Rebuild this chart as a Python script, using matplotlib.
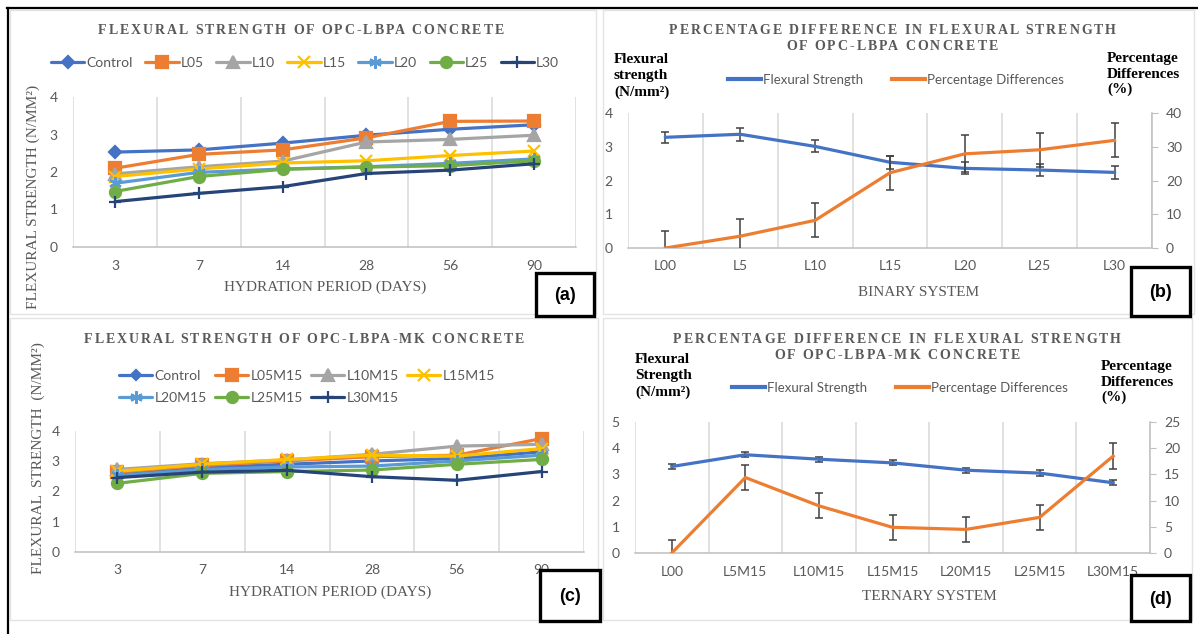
import matplotlib.pyplot as plt
import numpy as np
from matplotlib.lines import Line2D
from matplotlib.patches import Rectangle

W, H = 1198, 634
GRID = "#d9d9d9"
AXIS = "#bfbfbf"
TXT = "#595959"
SANS = "Lato"
SERIF = "Liberation Serif"

# ---- data ----
days = ["3", "7", "14", "28", "56", "90"]

binary_names = ["Control", "L05", "L10", "L15", "L20", "L25", "L30"]
b_control = [2.53, 2.59, 2.77, 2.98, 3.14, 3.26]
b_l05 = [2.10, 2.47, 2.59, 2.91, 3.35, 3.36]
b_l10 = [1.95, 2.14, 2.29, 2.80, 2.87, 2.98]
b_l15 = [1.88, 2.08, 2.24, 2.30, 2.44, 2.56]
b_l20 = [1.70, 1.99, 2.08, 2.14, 2.23, 2.35]
b_l25 = [1.48, 1.88, 2.07, 2.13, 2.17, 2.30]
b_l30 = [1.21, 1.43, 1.61, 1.96, 2.05, 2.22]

ternary_names = ["Control", "L05M15", "L10M15", "L15M15", "L20M15", "L25M15", "L30M15"]
t_control = [2.58, 2.79, 2.90, 3.01, 3.09, 3.31]
t_l05 = [2.64, 2.86, 3.01, 3.15, 3.20, 3.75]
t_l10 = [2.73, 2.92, 3.04, 3.23, 3.50, 3.56]
t_l15 = [2.67, 2.90, 3.06, 3.20, 3.17, 3.42]
t_l20 = [2.53, 2.73, 2.81, 2.84, 3.01, 3.20]
t_l25 = [2.27, 2.60, 2.66, 2.71, 2.90, 3.06]
t_l30 = [2.46, 2.64, 2.70, 2.49, 2.37, 2.66]

binary_mixes = ["L00", "L5", "L10", "L15", "L20", "L25", "L30"]
binary_fs = [3.28, 3.37, 3.01, 2.54, 2.36, 2.31, 2.24]
binary_fs_err = [0.17, 0.19, 0.18, 0.20, 0.18, 0.17, 0.19]
binary_pct = [0.0, 3.5, 8.2, 22.3, 27.9, 29.1, 31.9]
binary_pct_err = [5, 5, 5, 5, 5.5, 5, 5]

ternary_mixes = ["L00", "L5M15", "L10M15", "L15M15", "L20M15", "L25M15", "L30M15"]
ternary_fs = [3.30, 3.75, 3.58, 3.44, 3.16, 3.05, 2.68]
ternary_fs_err = [0.1, 0.1, 0.1, 0.1, 0.1, 0.1, 0.1]
ternary_pct = [0.0, 14.4, 9.0, 4.9, 4.5, 6.8, 18.5]
ternary_pct_err = [2.4, 2.4, 2.4, 2.4, 2.4, 2.4, 2.4]

# colour / marker per series (Excel office palette)
series_style = [
    ("#4472C4", "D", 6),
    ("#ED7D31", "s", 8),
    ("#A5A5A5", "^", 8),
    ("#FFC000", "x", 8),
    ("#5B9BD5", (6, 2, 0), 9),
    ("#70AD47", "o", 8),
    ("#264478", "+", 9),
]

fig = plt.figure(figsize=(W / 100, H / 100), dpi=100)
fig.patch.set_facecolor("white")
renderer = fig.canvas.get_renderer()


def rect(x0, y0, x1, y1):
    return [x0 / W, 1 - y1 / H, (x1 - x0) / W, (y1 - y0) / H]


def fxy(x, y):
    return x / W, 1 - y / H


def text_width(s, **kw):
    t = fig.text(0, 0, s, **kw)
    w = t.get_window_extent(renderer).width
    t.remove()
    return w


def spaced_text(s, x0, x1, y, **kw):
    # letter-spaced heading, stretched to fill x0..x1 (pixels), y is the baseline
    full = text_width(s, **kw)
    gap = (x1 - x0 - full) / (len(s) - 1)
    for i, ch in enumerate(s):
        if ch == " ":
            continue
        left = text_width(s[:i + 1], **kw) - text_width(ch, **kw)
        fig.text(*fxy(x0 + left + i * gap, y), ch, ha="left", va="baseline", **kw)


def stacked_text(lines, x, y, step, **kw):
    # one line per call so the baseline gap is exact (pixels)
    for i, s in enumerate(lines):
        fig.text(*fxy(x, y + i * step), s, ha="left", va="baseline", **kw)


def frame_line(xs, ys, color, lw):
    fig.add_artist(Line2D([x / W for x in xs], [1 - y / H for y in ys],
                          transform=fig.transFigure, color=color, lw=lw))


def base_axes(r, labels, ymax, ystep):
    ax = fig.add_axes(r)
    n = len(labels)
    ax.set_xlim(-0.5, n - 0.5)
    ax.set_ylim(0, ymax)
    ax.set_xticks(range(n))
    ax.set_xticklabels(labels)
    ax.set_yticks(np.arange(0, ymax + 0.01, ystep))
    for b in np.arange(-0.5, n):
        ax.axvline(b, color=GRID, lw=1.1, zorder=0)
    for s in ["top", "right", "left"]:
        ax.spines[s].set_visible(False)
    ax.spines["bottom"].set_color(AXIS)
    ax.spines["bottom"].set_linewidth(1.1)
    ax.tick_params(length=0, labelcolor=TXT, labelsize=10)
    ax.tick_params(axis="x", pad=9)
    ax.tick_params(axis="y", pad=11)
    for lab in ax.get_xticklabels() + ax.get_yticklabels():
        lab.set_family(SANS)
    ax.patch.set_alpha(0)
    return ax


def strength_lines(ax, series):
    handles = []
    for ys, (c, m, ms) in zip(series, series_style):
        h, = ax.plot(range(len(ys)), ys, color=c, lw=2.3, marker=m, ms=ms,
                     mew=1.6, mec=c, mfc=c, solid_capstyle="round")
        handles.append(h)
    return handles


def dual_axes(r, labels, fs, fs_err, pct, pct_err, ymax, ystep, pmax, pstep):
    ax = base_axes(r, labels, ymax, ystep)
    ax.errorbar(range(len(fs)), fs, yerr=fs_err, color="#4472C4", lw=2.3,
                ecolor="#404040", elinewidth=1.1, capsize=3, capthick=1.1)
    ax2 = ax.twinx()
    ax2.set_ylim(0, pmax)
    ax2.set_yticks(np.arange(0, pmax + 0.01, pstep))
    for s in ["top", "left", "bottom"]:
        ax2.spines[s].set_visible(False)
    ax2.spines["right"].set_color(AXIS)
    ax2.spines["right"].set_linewidth(1.1)
    ax2.tick_params(axis="y", length=4, color=AXIS, labelcolor=TXT,
                    labelsize=10, pad=6)
    for lab in ax2.get_yticklabels():
        lab.set_family(SANS)
    ax2.errorbar(range(len(pct)), pct, yerr=pct_err, color="#ED7D31", lw=2.3,
                 ecolor="#404040", elinewidth=1.1, capsize=3, capthick=1.1)
    return ax, ax2


def dual_legend(cx, y):
    hs = [Line2D([], [], color="#4472C4", lw=3), Line2D([], [], color="#ED7D31", lw=3)]
    fig.legend(hs, ["Flexural Strength", "Percentage Differences"], loc="center",
               bbox_to_anchor=fxy(cx, y), ncol=2, frameon=False, handlelength=2.5,
               handletextpad=0.15, columnspacing=2.2, labelcolor=TXT,
               prop={"family": SANS, "size": 9.5})


def tag(label, x0, y0, x1, y1):
    fig.add_artist(Rectangle(fxy(x0, y1), (x1 - x0) / W, (y1 - y0) / H,
                             transform=fig.transFigure, fc="white", ec="black",
                             lw=2.4, zorder=20))
    fig.text(*fxy((x0 + x1) / 2, (y0 + y1) / 2 + 1), label, ha="center", va="center",
             family="Liberation Sans", weight="bold", size=13, zorder=21)


# panel borders
for x0, y0, x1, y1 in [(10, 10, 596, 314), (603, 10, 1194, 314),
                       (10, 318, 598, 620), (603, 318, 1192, 620)]:
    fig.add_artist(Rectangle(fxy(x0, y1), (x1 - x0) / W, (y1 - y0) / H,
                             transform=fig.transFigure, fc="none", ec="#e3e3e3", lw=1))
frame_line([7, 1198], [8, 8], "black", 1.6)
frame_line([8, 8], [8, 634], "black", 1.6)

title_kw = dict(family=SERIF, weight="bold", size=10, color=TXT)
axis_kw = dict(family=SERIF, size=11, color=TXT)
side_kw = dict(family=SERIF, weight="bold", size=11, color="black")

# (a) binary mixes over hydration period
ax_a = base_axes(rect(73, 97, 576, 247), days, 4, 1)
h_a = strength_lines(ax_a, [b_control, b_l05, b_l10, b_l15, b_l20, b_l25, b_l30])
spaced_text("FLEXURAL STRENGTH OF OPC-LBPA CONCRETE", 98, 504, 34, **title_kw)
fig.legend(h_a, binary_names, loc="center", bbox_to_anchor=fxy(305, 63), ncol=7,
           frameon=False, handlelength=2.4, handletextpad=0.15, columnspacing=0.9,
           labelcolor=TXT, prop={"family": SANS, "size": 10})
fig.text(*fxy(325, 287), "HYDRATION PERIOD (DAYS)", ha="center", va="center", **axis_kw)
fig.text(*fxy(33, 197), "FLEXURAL STRENGTH (N/MM²)", ha="center", va="center",
         rotation=90, **axis_kw)
tag("(a)", 536, 273, 594, 316)

# (b) binary system, strength and percentage difference
ax_b, ax_b2 = dual_axes(rect(628, 113, 1152, 248), binary_mixes, binary_fs,
                        binary_fs_err, binary_pct, binary_pct_err, 4, 1, 40, 10)
spaced_text("PERCENTAGE DIFFERENCE IN FLEXURAL STRENGTH", 669, 1116, 34, **title_kw)
spaced_text("OF OPC-LBPA CONCRETE", 786, 998, 50, **title_kw)
dual_legend(896, 80)
stacked_text(["Flexural", "strength", "(N/mm²)"], 614, 63, 16.5, **side_kw)
stacked_text(["Percentage", "Differences", "(%)"], 1107, 62, 15.5, **side_kw)
fig.text(*fxy(919, 293), "BINARY SYSTEM", ha="center", va="center", **axis_kw)
tag("(b)", 1131, 267, 1190, 316)

# (c) ternary mixes over hydration period
ax_c = base_axes(rect(75, 431, 584, 552), days, 4, 1)
h_c = strength_lines(ax_c, [t_control, t_l05, t_l10, t_l15, t_l20, t_l25, t_l30])
h_c[0].set_markersize(5)
spaced_text("FLEXURAL STRENGTH OF OPC-LBPA-MK CONCRETE", 84, 524, 343, **title_kw)
order = [0, 4, 1, 5, 2, 6, 3]
fig.legend([h_c[i] for i in order], [ternary_names[i] for i in order], loc="center",
           bbox_to_anchor=fxy(307, 387), ncol=4, frameon=False, handlelength=2.4,
           handletextpad=0.15, columnspacing=0.6, labelspacing=0.75,
           labelcolor=TXT, prop={"family": SANS, "size": 10})
fig.text(*fxy(330, 592), "HYDRATION PERIOD (DAYS)", ha="center", va="center", **axis_kw)
fig.text(*fxy(38, 458), "FLEXURAL  STRENGTH  (N/MM²)", ha="center", va="center",
         rotation=90, **axis_kw)
tag("(c)", 540, 570, 600, 621)

# (d) ternary system, strength and percentage difference
ax_d, ax_d2 = dual_axes(rect(635, 422, 1150, 553), ternary_mixes, ternary_fs,
                        ternary_fs_err, ternary_pct, ternary_pct_err, 5, 1, 25, 5)
spaced_text("PERCENTAGE DIFFERENCE IN FLEXURAL STRENGTH", 673, 1121, 343, **title_kw)
spaced_text("OF OPC-LBPA-MK CONCRETE", 774, 1020, 359, **title_kw)
dual_legend(900, 388)
stacked_text(["Flexural", "Strength", "(N/mm²)"], 635, 363, 16.5, **side_kw)
stacked_text(["Percentage", "Differences", "(%)"], 1101, 370, 15.5, **side_kw)
fig.text(*fxy(929, 597), "TERNARY SYSTEM", ha="center", va="center", **axis_kw)
tag("(d)", 1131, 575, 1190, 621)

fig.savefig("out.png", dpi=100, facecolor="white")
